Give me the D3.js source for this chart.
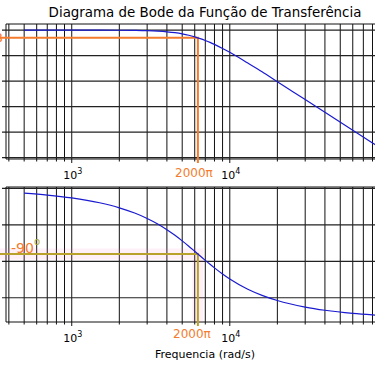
<!DOCTYPE html>
<html>
<head>
<meta charset="utf-8">
<script src="https://cdn.jsdelivr.net/npm/d3@7"></script>
<style>
  body { margin: 0; background: #fff; }
  svg { display: block; font-family: "DejaVu Sans", sans-serif; }
</style>
</head>
<body>
<div id="bode"></div>
<script>
// frequencias (rad/s)
var freq = [500, 700, 1000, 1500, 2000, 2500, 3000, 3500, 4000, 4500, 5000, 5500, 6000, 6500,
            7000, 7500, 8000, 9000, 10000, 13000, 16000, 20000, 30000, 40000, 60000, 80000, 100000];
// modulo em dB
var magDb = [0, 0, -0.003, -0.01, -0.04, -0.11, -0.22, -0.4, -0.66, -1.01, -1.46, -2.0, -2.63, -3.31,
             -4.05, -4.81, -5.6, -7.17, -8.7, -12.9, -16.3, -20.2, -27.2, -32.2, -39.2, -44.2, -48.1];
// fase em graus
var phaseDeg = [-6.5, -9.1, -13.0, -19.7, -26.6, -33.8, -41.2, -48.8, -56.6, -64.3, -72.0, -79.3, -86.3, -92.75,
                -98.7, -104.1, -109.0, -117.4, -124.3, -138.3, -146.7, -153.8, -162.8, -167.2, -171.5, -173.6, -174.9];

var cutoff = 2000 * Math.PI;
var cutoffDb = -3;
var cutoffPhase = -90;

var magTicks = [0, -10, -20, -30, -40, -50];
var phaseTicks = [0, -50, -100, -150];
var majorFreq = [1000, 10000];
var minorFreq = [400, 500, 600, 700, 800, 900, 2000, 3000, 4000, 5000, 6000, 7000, 8000, 9000,
                 20000, 30000, 40000, 50000, 60000, 70000, 80000, 90000];

var width = 375, height = 366;

var svg = d3.select("#bode").append("svg")
    .attr("width", width)
    .attr("height", height);

svg.append("rect")
    .attr("width", width)
    .attr("height", height)
    .attr("fill", "#fff");

// eixo x (log), o eixo continua alem da borda direita
var x = d3.scaleLog()
    .domain([Math.pow(10, 2.584), Math.pow(10, 5.115)])
    .range([6, 406]);

var yMag = d3.scaleLinear().domain([-50.5, 2.4]).range([159, 24]);
var yPh = d3.scaleLinear().domain([-183.3, 1.96]).range([322, 187]);

var blue = "#1a1ad0", orange = "#f47c2c", olive = "#b8a22c";

function panel(y, ticks, top, bottom) {
    var g = svg.append("g");

    // grade vertical (maior e menor)
    g.selectAll(".vgrid")
        .data(majorFreq.concat(minorFreq))
      .enter().append("line")
        .attr("x1", function(d) { return x(d); })
        .attr("x2", function(d) { return x(d); })
        .attr("y1", top)
        .attr("y2", bottom)
        .attr("stroke", "#111")
        .attr("stroke-width", 1);

    // grade horizontal
    g.selectAll(".hgrid")
        .data(ticks)
      .enter().append("line")
        .attr("x1", 2)
        .attr("x2", width)
        .attr("y1", function(d) { return y(d); })
        .attr("y2", function(d) { return y(d); })
        .attr("stroke", "#222")
        .attr("stroke-width", 1.2);

    // bordas
    g.append("line").attr("x1", 6).attr("x2", width).attr("y1", top).attr("y2", top)
        .attr("stroke", "#111");
    g.append("line").attr("x1", 6).attr("x2", width).attr("y1", bottom).attr("y2", bottom)
        .attr("stroke", "#111");
    g.append("line").attr("x1", 6).attr("x2", 6).attr("y1", top).attr("y2", bottom)
        .attr("stroke", "#111");

    // marcas do eixo x
    g.selectAll(".mtick")
        .data(minorFreq)
      .enter().append("line")
        .attr("x1", function(d) { return x(d); })
        .attr("x2", function(d) { return x(d); })
        .attr("y1", bottom)
        .attr("y2", bottom + 2.5)
        .attr("stroke", "#111");
    g.selectAll(".Mtick")
        .data(majorFreq)
      .enter().append("line")
        .attr("x1", function(d) { return x(d); })
        .attr("x2", function(d) { return x(d); })
        .attr("y1", bottom)
        .attr("y2", bottom + 4)
        .attr("stroke", "#111");

    var lab = g.selectAll(".xlab")
        .data(majorFreq)
      .enter().append("text")
        .attr("x", function(d) { return x(d) + 1; })
        .attr("y", bottom + 20)
        .attr("text-anchor", "middle")
        .attr("font-size", 11)
        .attr("fill", "#000");
    lab.append("tspan").text("10");
    lab.append("tspan")
        .attr("dy", -5)
        .attr("font-size", 8)
        .text(function(d) { return Math.round(Math.log10(d)); });

    return g;
}

var gMag = panel(yMag, magTicks, 24, 159);
var gPh = panel(yPh, phaseTicks, 187, 322);

var line = d3.line().curve(d3.curveMonotoneX);

// modulo: linhas de -3 dB
gMag.append("path")
    .attr("d", "M" + 0 + "," + yMag(cutoffDb) + "H" + x(cutoff) + "V" + (159 + 4))
    .attr("fill", "none")
    .attr("stroke", orange)
    .attr("stroke-width", 2);

gMag.append("path")
    .attr("d", line(freq.map(function(f, i) { return [x(f), yMag(magDb[i])]; })))
    .attr("fill", "none")
    .attr("stroke", blue)
    .attr("stroke-width", 1.2);

gMag.append("text")
    .attr("x", 3)
    .attr("y", yMag(cutoffDb) + 4)
    .attr("text-anchor", "end")
    .attr("font-size", 13)
    .attr("fill", orange)
    .text("-3dB");

gMag.append("text")
    .attr("x", x(cutoff) - 4)
    .attr("y", 177)
    .attr("text-anchor", "middle")
    .attr("font-size", 12)
    .attr("fill", orange)
    .text("2000\u03c0");

// fase: faixa rosa e linhas de -90 graus
gPh.append("path")
    .attr("d", "M" + 0 + "," + yPh(cutoffPhase) + "H" + x(cutoff) + "V" + 322)
    .attr("fill", "none")
    .attr("stroke", "#ff66b3")
    .attr("stroke-opacity", 0.1)
    .attr("stroke-width", 11);

gPh.append("path")
    .attr("d", "M" + 0 + "," + yPh(cutoffPhase) + "H" + x(cutoff) + "V" + (322 + 4))
    .attr("fill", "none")
    .attr("stroke", olive)
    .attr("stroke-width", 2);

gPh.append("path")
    .attr("d", line(freq.map(function(f, i) { return [x(f), yPh(phaseDeg[i])]; })))
    .attr("fill", "none")
    .attr("stroke", blue)
    .attr("stroke-width", 1.2);

var ph = gPh.append("text")
    .attr("x", 11)
    .attr("y", yPh(cutoffPhase) - 1)
    .attr("font-size", 14)
    .attr("fill", orange);
ph.append("tspan").text("-90");
ph.append("tspan")
    .attr("dy", -8)
    .attr("font-size", 10)
    .attr("fill", "#a8a83a")
    .text("o");

gPh.append("text")
    .attr("x", x(cutoff) - 6)
    .attr("y", 338)
    .attr("text-anchor", "middle")
    .attr("font-size", 12)
    .attr("fill", orange)
    .text("2000\u03c0");

// titulos
svg.append("text")
    .attr("x", 205)
    .attr("y", 17)
    .attr("text-anchor", "middle")
    .attr("font-size", 13.4)
    .attr("fill", "#000")
    .text("Diagrama de Bode da Fun\u00e7\u00e3o de Transfer\u00eancia");

svg.append("text")
    .attr("x", 205)
    .attr("y", 358)
    .attr("text-anchor", "middle")
    .attr("font-size", 11)
    .attr("fill", "#000")
    .text("Frequencia (rad/s)");
</script>
</body>
</html>
